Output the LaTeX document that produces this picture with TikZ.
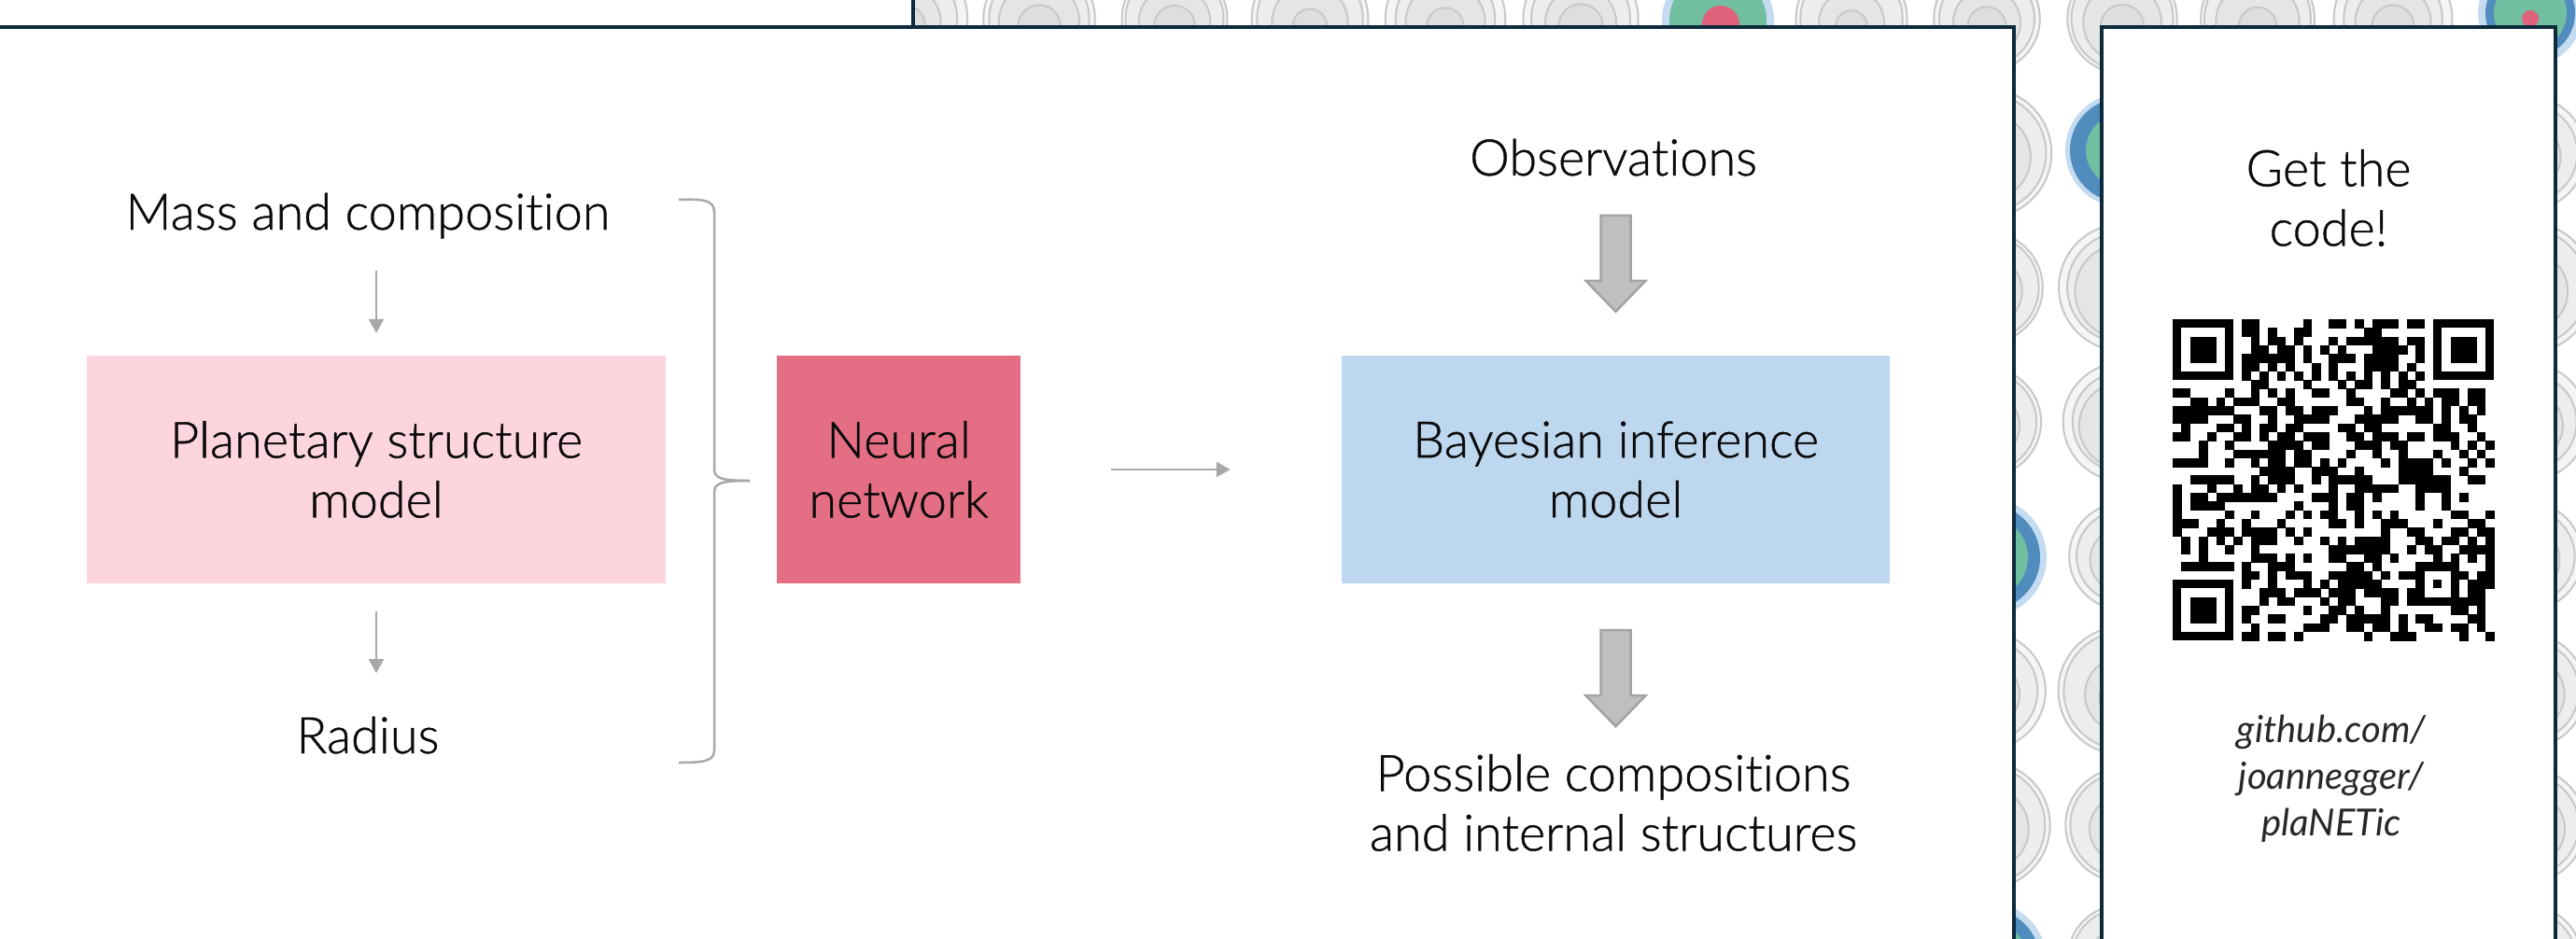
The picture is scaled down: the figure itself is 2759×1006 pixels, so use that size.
\documentclass[tikz,border=0pt]{standalone}
\usepackage{fontspec}
\setmainfont{Lato}[UprightFont={* Light}, UprightFeatures={FakeBold=0.8}, ItalicFont={* Italic}, Ligatures=NoCommon]
\usetikzlibrary{arrows.meta,calc}
\definecolor{navy}{RGB}{12,42,60}
\definecolor{pinkbox}{RGB}{253,213,222}
\definecolor{nnbox}{RGB}{228,111,133}
\definecolor{bayesbox}{RGB}{189,215,238}
\definecolor{arrgrey}{RGB}{168,168,168}
\definecolor{blockfill}{RGB}{191,191,191}
\definecolor{blockline}{RGB}{163,163,163}
\definecolor{gA}{RGB}{245,245,245}
\definecolor{gB}{RGB}{237,237,237}
\definecolor{gC}{RGB}{229,229,229}
\definecolor{gD}{RGB}{222,222,222}
\definecolor{gline}{RGB}{200,200,200}
\definecolor{pblue}{RGB}{80,140,190}
\definecolor{pgreen}{RGB}{113,190,160}
\definecolor{pred}{RGB}{224,98,122}
\definecolor{pglow}{RGB}{196,219,240}
\definecolor{txt}{RGB}{10,10,10}
\definecolor{txtit}{RGB}{40,40,40}
\newcommand\mainfs{\fontsize{54}{64}\selectfont}
\newcommand\itfs{\fontsize{40}{50}\selectfont\itshape}
\tikzset{
  panel/.style={draw=navy, line width=4pt, fill=white},
  box/.style={minimum height=244pt, inner sep=0pt, align=center, font=\mainfs, text=txt},
  lbl/.style={align=center, font=\mainfs, text=txt, inner sep=0pt},
  thinarrow/.style={draw=arrgrey, line width=2.5pt, -{Triangle[length=15pt,width=16pt]}},
  bracestyle/.style={draw=arrgrey, line width=2.5pt},
  blockarr/.pic={
    \filldraw[fill=blockfill, draw=blockline, line width=2.5pt, line join=miter]
      (-16,0) -- (16,0) -- (16,70) -- (32,70) -- (0,103) -- (-32,70) -- (-16,70) -- cycle;
  },
  ring/.style={draw=gline, line width=2pt}
}
\begin{document}
\begin{tikzpicture}[x=1pt,y=-1pt]
\useasboundingbox (0,0) rectangle (2759,1006);
\clip (0,0) rectangle (2759,1006);
\fill[white] (0,0) rectangle (2759,1006);

% background planets (grey)
\pgfmathsetseed{7}
\foreach \k in {0,...,12}{
  \foreach \j in {0,...,7}{
    \pgfmathsetmacro{\px}{968+145*\k}
    \pgfmathsetmacro{\py}{20+144*\j}
    \pgfmathsetmacro{\Ra}{56+14*rnd}
    \pgfmathsetmacro{\Rb}{\Ra*(0.82+0.12*rnd)}
    \pgfmathsetmacro{\Rc}{\Ra*(0.55+0.2*rnd)}
    \pgfmathsetmacro{\Rd}{\Ra*(0.28+0.12*rnd)}
    \pgfmathtruncatemacro{\iscol}{((\k==6)&&(\j==0))||((\k==12)&&(\j==0))||((\k==9)&&(\j==1))||((\k==8)&&(\j==4))||((\k==8)&&(\j==7))}
    \ifnum\iscol=0
      \filldraw[ring, fill=gA] (\px,\py) circle[radius=\Ra];
      \filldraw[ring, fill=gB] (\px,\py) circle[radius=\Rb];
      \filldraw[ring, fill=gC] (\px,\py+4) circle[radius=\Rc];
      \filldraw[ring, fill=gD] (\px,\py+8) circle[radius=\Rd];
    \fi
  }}

% coloured planets
\fill[pglow] (1840,22) circle[radius=60];
\fill[pgreen] (1840,22) circle[radius=52];
\fill[pred] (1843,26) circle[radius=20];

\fill[pglow] (2710,14) circle[radius=56];
\fill[pblue] (2710,14) circle[radius=48];
\fill[pgreen] (2710,14) circle[radius=39];
\fill[pred] (2710,20) circle[radius=9];

\fill[pglow] (2273,161) circle[radius=61];
\fill[pblue] (2273,161) circle[radius=56];
\fill[pgreen] (2273,161) circle[radius=39];

\fill[pglow] (2128,597) circle[radius=64];
\fill[pblue] (2128,597) circle[radius=57];
\fill[pgreen] (2128,597) circle[radius=44];

\fill[pglow] (2128,1030) circle[radius=64];
\fill[pblue] (2128,1030) circle[radius=57];
\fill[pgreen] (2128,1030) circle[radius=44];

% panels
\draw[panel] (-20,-20) rectangle (978,29);
\draw[panel] (-20,29) rectangle (2157,1040);
\draw[panel] (2251,29) rectangle (2737,1040);

% main diagram
\node[lbl, anchor=base] (mass) at (394,246) {Mass and composition};
\node[box, fill=pinkbox, minimum width=620pt] (pss) at (403,503) {Planetary structure\\model};
\node[lbl, anchor=base] (radius) at (394,807) {Radius};
\node[box, fill=nnbox, minimum width=261pt] (nn) at (962.5,503) {Neural\\network};
\node[box, fill=bayesbox, minimum width=587pt] (bim) at (1730.5,503) {Bayesian inference\\model};
\node[lbl, anchor=base] (obs) at (1728,188) {Observations};
\node[lbl] (poss) at (1728,860) {Possible compositions\\and internal structures};

\draw[thinarrow] ($(pss.north)+(0,-91)$) -- ($(pss.north)+(0,-24)$);
\draw[thinarrow] ($(pss.south)+(0,30)$) -- ($(pss.south)+(0,96)$);
\draw[thinarrow, shorten <=97pt, shorten >=119pt] (nn.east) -- (bim.west);

\path (bim.north) ++(0,-150) pic {blockarr};
\path (bim.south) ++(0,50) pic {blockarr};

% brace
\coordinate (bt) at (727,214);
\coordinate (btip) at (803,515);
\coordinate (bb) at (727,817);
\draw[bracestyle] (bt) .. controls (752,213) and (765,214) .. (765,227)
  -- (765,502) .. controls (765,512) and (771,515) .. (btip);
\draw[bracestyle] (btip) .. controls (771,515) and (765,518) .. (765,528)
  -- (765,804) .. controls (765,816) and (752,817) .. (bb);

% QR panel
\node[lbl] (get) at (2494,212) {Get the\\code!};
\node[align=center, font=\itfs, text=txtit, inner sep=0pt] (url) at (2497,834) {github.com/\\joannegger/\\plaNETic};

\def\qm{9.3}
\begin{scope}[shift={(2327,342)}]
\pgfmathsetseed{2024}
\foreach \r in {0,...,36}{
  \foreach \c in {0,...,36}{
    \pgfmathtruncatemacro{\qres}{((\r<8)&&(\c<8))||((\r<8)&&(\c>28))||((\r>28)&&(\c<8))||((\r>27)&&(\r<33)&&(\c>27)&&(\c<33))||(\r==6)||(\c==6)}
    \pgfmathtruncatemacro{\qon}{rnd<0.48}
    \ifnum\qres=0 \ifnum\qon=1
      \fill[black] ({\c*\qm},{\r*\qm}) rectangle ++({\qm+0.4},{\qm+0.4});
    \fi\fi
  }}
\foreach \t in {8,10,...,28}{
  \fill[black] ({\t*\qm},{6*\qm}) rectangle ++({\qm+0.4},{\qm+0.4});
  \fill[black] ({6*\qm},{\t*\qm}) rectangle ++({\qm+0.4},{\qm+0.4});
}
\foreach \fx/\fy in {0/0,30/0,0/30}{
  \fill[black] ({\fx*\qm},{\fy*\qm}) rectangle ++({7*\qm},{7*\qm});
  \fill[white] ({(\fx+1)*\qm},{(\fy+1)*\qm}) rectangle ++({5*\qm},{5*\qm});
  \fill[black] ({(\fx+2)*\qm},{(\fy+2)*\qm}) rectangle ++({3*\qm},{3*\qm});
}
\fill[black] ({28*\qm},{28*\qm}) rectangle ++({5*\qm},{5*\qm});
\fill[white] ({29*\qm},{29*\qm}) rectangle ++({3*\qm},{3*\qm});
\fill[black] ({30*\qm},{30*\qm}) rectangle ++({\qm},{\qm});
\end{scope}
\end{tikzpicture}
\end{document}
